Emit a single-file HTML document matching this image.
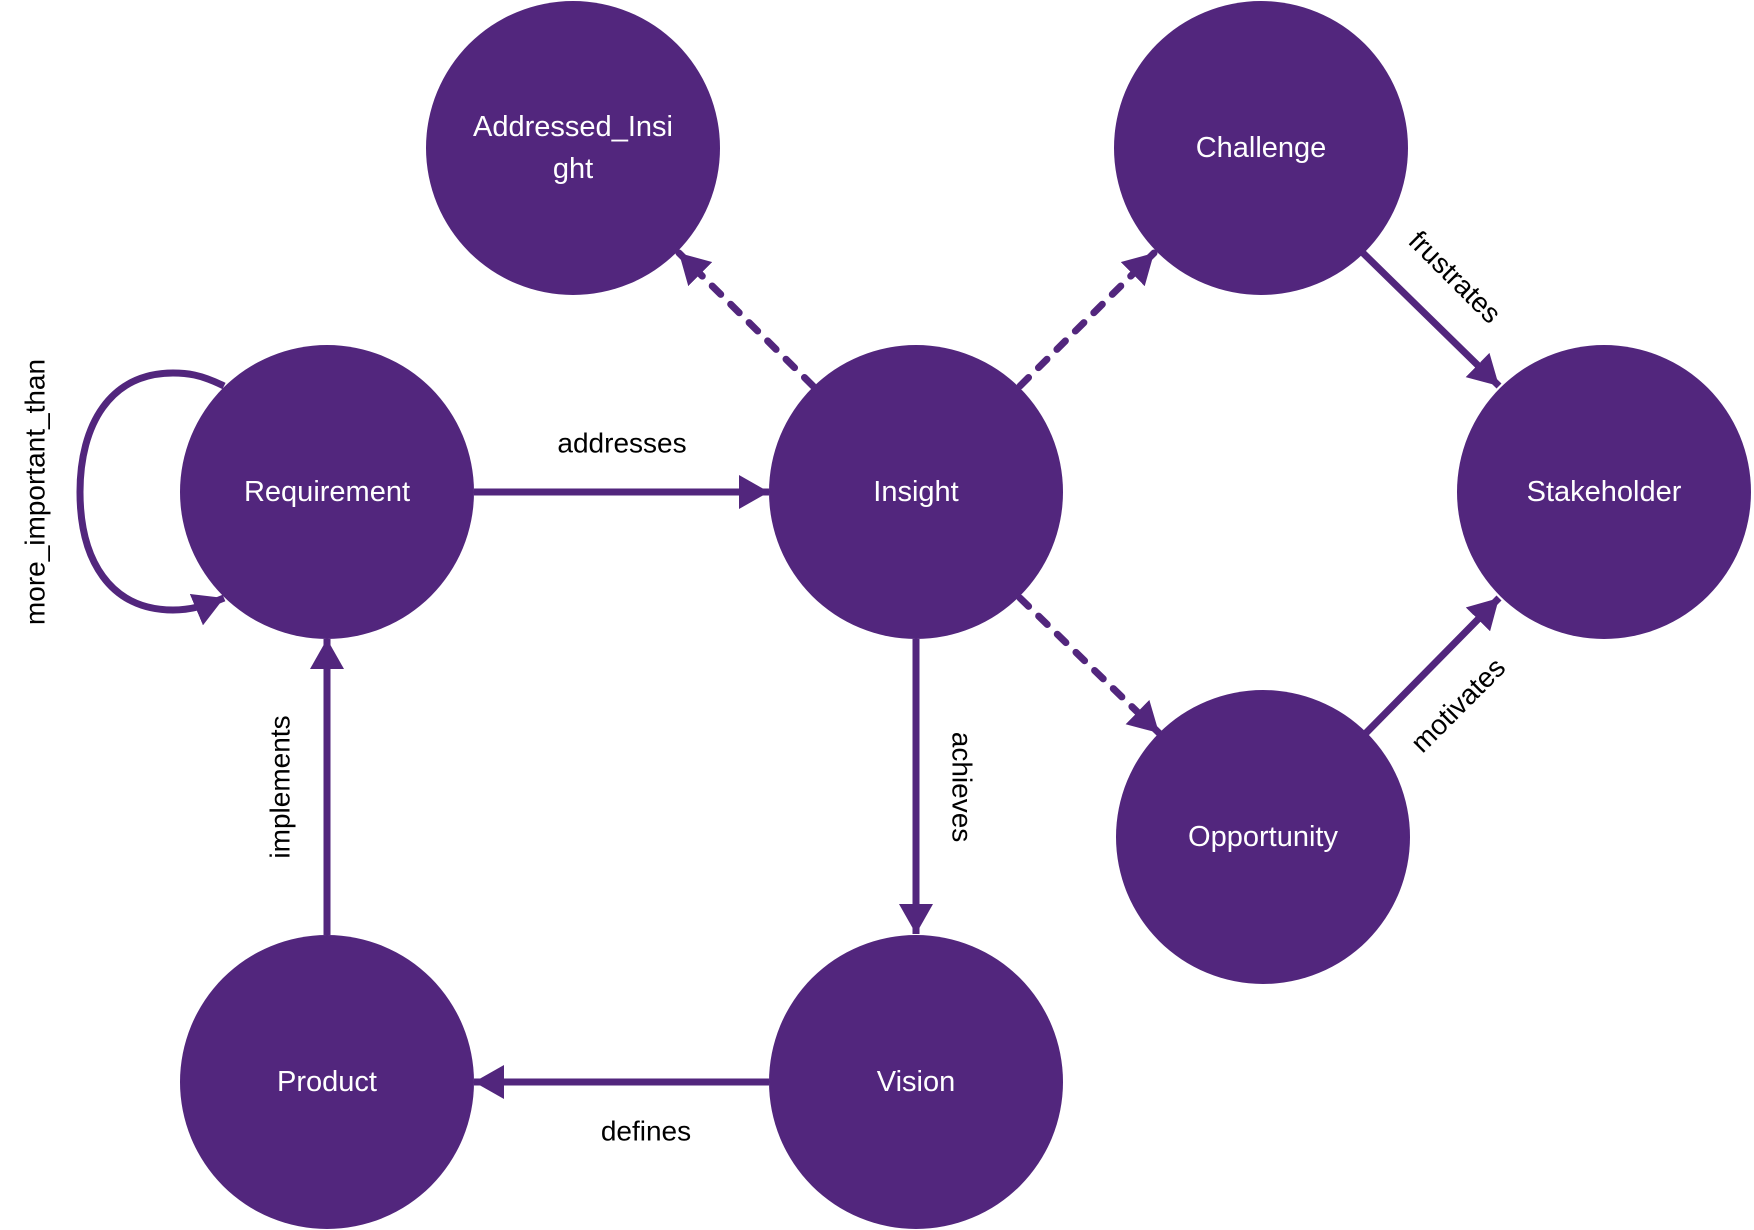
<!DOCTYPE html>
<html><head><meta charset="utf-8"><style>
html,body{margin:0;padding:0;background:#fff;}
svg{display:block;}
.n{font-family:"Liberation Sans",sans-serif;font-size:29px;fill:#fff;text-anchor:middle;dominant-baseline:central;}
.l{font-family:"Liberation Sans",sans-serif;font-size:28px;fill:#000;text-anchor:middle;dominant-baseline:central;}
</style></head><body>
<svg width="1754" height="1230" viewBox="0 0 1754 1230" xmlns="http://www.w3.org/2000/svg">
<defs>
<marker id="a" markerUnits="userSpaceOnUse" markerWidth="34" markerHeight="34" refX="30" refY="17" orient="auto">
<path d="M0,0 L30,17 L0,34 Z" fill="#52267D"/>
</marker>
</defs>
<g fill="#52267D">
<circle cx="573" cy="148" r="147"/>
<circle cx="1261" cy="148" r="147"/>
<circle cx="327" cy="492" r="147"/>
<circle cx="916" cy="492" r="147"/>
<circle cx="1604" cy="492" r="147"/>
<circle cx="1263" cy="837" r="147"/>
<circle cx="327" cy="1082" r="147"/>
<circle cx="916" cy="1082" r="147"/>
</g>
<g stroke="#52267D" stroke-width="7" fill="none">
<line x1="474" y1="492" x2="769" y2="492" marker-end="url(#a)"/>
<line x1="916" y1="639" x2="916" y2="934" marker-end="url(#a)"/>
<line x1="769" y1="1082" x2="474" y2="1082" marker-end="url(#a)"/>
<line x1="327" y1="935" x2="327" y2="639" marker-end="url(#a)"/>
<line x1="1362" y1="252" x2="1499" y2="386" marker-end="url(#a)"/>
<line x1="1366" y1="733" x2="1499" y2="598" marker-end="url(#a)"/>
<path d="M224,386 C200,374 186,373 173,373 C110,373 80,425 80,492 C80,560 110,610 173,610 C190,610 205,606 224,598" marker-end="url(#a)"/>
<g stroke-dasharray="12 14" stroke-linecap="round">
<line x1="813" y1="386" x2="679" y2="253" marker-end="url(#a)"/>
<line x1="1020" y1="386" x2="1154" y2="253" marker-end="url(#a)"/>
<line x1="1020" y1="598" x2="1159" y2="733" marker-end="url(#a)"/>
</g>
</g>
<text class="n" x="573" y="127">Addressed_Insi</text>
<text class="n" x="573" y="169">ght</text>
<text class="n" x="1261" y="148">Challenge</text>
<text class="n" x="327" y="492">Requirement</text>
<text class="n" x="916" y="492">Insight</text>
<text class="n" x="1604" y="492">Stakeholder</text>
<text class="n" x="1263" y="837">Opportunity</text>
<text class="n" x="327" y="1082">Product</text>
<text class="n" x="916" y="1082">Vision</text>
<text class="l" x="622" y="443">addresses</text>
<text class="l" x="646" y="1131">defines</text>
<text class="l" transform="translate(962,787) rotate(90)">achieves</text>
<text class="l" transform="translate(280,787) rotate(-90)">implements</text>
<text class="l" transform="translate(35,492) rotate(-90)">more_important_than</text>
<text class="l" transform="translate(1455,277) rotate(45)">frustrates</text>
<text class="l" transform="translate(1458,705) rotate(-45)">motivates</text>
</svg>
</body></html>
